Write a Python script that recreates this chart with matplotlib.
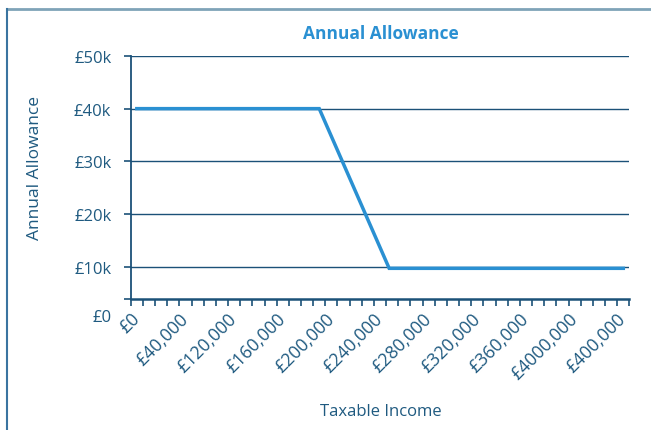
import matplotlib
matplotlib.use("Agg")
import matplotlib.pyplot as plt
from matplotlib.lines import Line2D
from matplotlib.ticker import FixedLocator
from matplotlib.transforms import ScaledTranslation

# ---- data ----
income = [0, 150000, 207500, 400000]
allowance = [40000, 40000, 9700, 9700]
x_tick_values = [0, 40000, 80000, 120000, 160000, 200000, 240000, 280000, 320000, 360000, 400000]
x_tick_labels = ["£0", "£40,000", "£120,000", "£160,000", "£200,000", "£240,000",
                 "£280,000", "£320,000", "£360,000", "£4000,000", "£400,000"]
y_tick_values = [0, 10000, 20000, 30000, 40000, 50000]
y_tick_labels = ["£0", "£10k", "£20k", "£30k", "£40k", "£50k"]

TEXT = "#1f5a80"
AXC = "#1b5178"
LINEC = "#2a90d2"
FS = 12

plt.rcParams['font.family'] = ['Open Sans', 'DejaVu Sans']

fig = plt.figure(figsize=(6.51, 4.31), dpi=100)
ax = fig.add_axes([0.2008, 0.2565, 0.766, 0.6114])

ax.plot(income, allowance, color=LINEC, lw=2.5, solid_joinstyle='miter', zorder=3)

ax.set_xlim(-5000, 405000)
ax.set_ylim(0, 50000)

axis_y = 3890
for s in ['top', 'right']:
    ax.spines[s].set_visible(False)
ax.spines['bottom'].set_position(('data', axis_y))
ax.spines['bottom'].set_color(AXC)
ax.spines['bottom'].set_linewidth(1.8)
ax.spines['left'].set_bounds(axis_y, 50000)
ax.spines['left'].set_color(AXC)
ax.spines['left'].set_linewidth(1.3)

# y ticks
ax.set_yticks(y_tick_values)
ax.set_yticklabels(y_tick_labels)
ax.yaxis.set_minor_locator(FixedLocator([axis_y]))
ax.tick_params(axis='y', which='both', length=5, width=1.2, color=AXC, pad=9,
               labelsize=FS, labelcolor=TEXT)
ax.grid(axis='y', color=AXC, lw=1.0)
t0 = ax.yaxis.get_major_ticks()[0]
t0.tick1line.set_visible(False)
t0.gridline.set_visible(False)
t0.label1.set_transform(t0.label1.get_transform() +
                        ScaledTranslation(0, 4 / 100, fig.dpi_scale_trans))

# x ticks: labels at category centres, tick marks at category boundaries
ax.set_xticks(x_tick_values)
ax.set_xticklabels(x_tick_labels, rotation=45, ha='right', va='center',
                   rotation_mode='anchor')
ax.xaxis.set_minor_locator(FixedLocator([-5000 + 10000 * i for i in range(42)]))
ax.tick_params(axis='x', which='major', length=0, pad=12, labelsize=12.8,
               labelcolor=TEXT)
ax.tick_params(axis='x', which='minor', length=5, width=1.2, color=AXC)

fig.text(381 / 651, 1 - 412 / 431, "Taxable Income", fontsize=FS, color=TEXT,
         ha='center', va='center')
fig.text(35 / 651, 1 - 168 / 431, "Annual Allowance", fontsize=12.5, color=TEXT,
         ha='center', va='center', rotation=90)
fig.text(381 / 651, 1 - 34 / 431, "Annual Allowance", fontsize=12.5, color=LINEC,
         ha='center', va='center', fontweight='bold')

# frame
fig.add_artist(Line2D([6.5 / 651, 1.0], [1 - 10 / 431, 1 - 10 / 431],
                      transform=fig.transFigure, color="#7fa3b8", lw=2))
fig.add_artist(Line2D([6.5 / 651, 6.5 / 651], [1 - 10 / 431, 0.0],
                      transform=fig.transFigure, color="#3a74a0", lw=1.5))

fig.savefig("out.png", dpi=100)
